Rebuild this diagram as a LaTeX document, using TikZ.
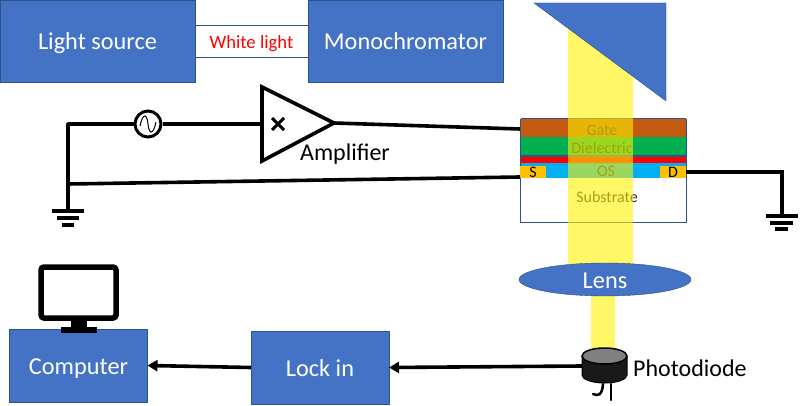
\documentclass[tikz,border=0pt]{standalone}
\usepackage{fontspec}
\setmainfont{Carlito}
\usetikzlibrary{arrows.meta, shapes.geometric}
\definecolor{boxblue}{HTML}{4472C4}
\definecolor{boxedge}{HTML}{2F528F}
\tikzset{
    blockbox/.style={draw=boxedge, fill=boxblue, text=white, font=\fontsize{24.3}{28}\selectfont, text height=18pt, text depth=0pt, inner sep=0pt, outer sep=0pt},
    layerbox/.style={inner sep=0pt, outer sep=0pt, font=\fontsize{16}{18}\selectfont, text=black!85},
    wire/.style={line width=3.6pt, black},
    gndbar/.style={line width=3.2pt, black},
    beam/.style={fill=yellow, fill opacity=0.6, draw=none},
}

\begin{document}
\begin{tikzpicture}[x=1pt, y=-1pt]
    \useasboundingbox (0,0) rectangle (800,406);

    \node[draw=boxedge, fill=white, minimum width=113pt, minimum height=32pt, inner sep=0pt, text=red, font=\fontsize{18.7}{20}\selectfont, text height=15pt, text depth=0pt] (whitelight) at (251.5,41) {White light};
    \node[blockbox, minimum width=195pt, minimum height=82pt] (lightsource) at (97.5,41) {Light source};
    \node[blockbox, minimum width=195pt, minimum height=82pt] (monochromator) at (405.5,41) {Monochromator};

    % transistor stack
    \node[layerbox, draw=boxedge, fill=white, minimum width=166pt, minimum height=103pt] (stack) at (603,170.5) {};
    \node[layerbox, fill=boxedge, minimum width=165pt, minimum height=46pt] at (603,141) {};
    \node[layerbox, fill={rgb,255:red,197;green,90;blue,17}, minimum width=165pt, minimum height=18pt] (gate) at (603,128) {};
    \node[layerbox, fill={rgb,255:red,0;green,176;blue,80}, minimum width=165pt, minimum height=18pt] (dielectric) at (603,146) {};
    \node[layerbox, fill=red, minimum width=165pt, minimum height=6pt] (barrier) at (603,160) {};
    \node[layerbox, fill={rgb,255:red,0;green,176;blue,240}, minimum width=165pt, minimum height=15pt] (channel) at (603,170.5) {};
    \node[layerbox, fill={rgb,255:red,255;green,192;blue,0}, minimum width=26pt, minimum height=12pt, text=black] (source) at (533,172) {S};
    \node[layerbox, fill={rgb,255:red,255;green,192;blue,0}, minimum width=26pt, minimum height=12pt, text=black] (drain) at (673,172) {D};
    \node[layerbox] at (602,130) {Gate};
    \node[layerbox] at (602,148) {Dielectric};
    \node[layerbox] at (606,171) {OS};
    \node[layerbox] at (607,197) {Substrate};

    % light path
    \fill[beam] (568,10) rectangle (633,265);
    \fill[yellow!60] (591,295) rectangle (615,352);
    \fill[boxblue, draw=boxedge] (534,3) -- (666,3) -- (666,101) -- cycle;
    \node[blockbox, ellipse, minimum width=172pt, minimum height=33pt] (lens) at (605,279.5) {Lens};

    % source side wiring
    \coordinate (groundtop) at (68,124);
    \coordinate (junction) at (68,184);
    \coordinate (groundleft) at (68,211);
    \coordinate (ampin) at (262,124);
    \coordinate (ampout) at (334,123);
    \coordinate (gatein) at (520,129);
    \coordinate (sourcein) at (520,177);
    \coordinate (drainout) at (686,172);
    \coordinate (corner) at (782,172);
    \coordinate (groundright) at (782,216);

    \node[circle, draw, line width=3pt, fill=white, minimum size=26pt, inner sep=0pt] (acsource) at (148,124) {};
    \draw[line width=1pt] (140,126) .. controls (143,112) and (147,114) .. (148,124) .. controls (149,134) and (153,136) .. (156,122);
    \draw[wire, line join=round] (acsource) -- (groundtop) -- (groundleft);
    \draw[wire] (acsource) -- (ampin);
    \draw[wire] (junction) -- (sourcein);
    \draw[wire] (ampout) -- (gatein);
    \draw[wire, line join=miter] (drainout) -- (corner) -- (groundright);

    \draw[line width=3.6pt, line join=miter] (262,87) -- (334,123) -- (262,161) -- cycle;
    \draw[line width=3pt] (272,118) -- (284,130) (284,118) -- (272,130);
    \node[inner sep=0pt, font=\fontsize{24}{28}\selectfont] (amplifier) at (345,154) {Amplifier};

    % grounds
    \draw[gndbar] (52,211) -- (84,211) (57,218) -- (79,218) (62,225) -- (74,225);
    \draw[gndbar] (766,216) -- (798,216) (770,223) -- (793,223) (775,229) -- (788,229);

    % detection
    \node[blockbox, minimum width=138pt, minimum height=73pt] (lockin) at (320,367.5) {Lock in};
    \node[blockbox, minimum width=138pt, minimum height=73pt] (computer) at (78.5,365.5) {Computer};
    \coordinate (diodeleft) at (582,366);
    \draw[wire, -{Triangle[length=10pt,width=11pt]}] (diodeleft) -- (lockin.east);
    \draw[wire, -{Triangle[length=10pt,width=11pt]}] (lockin.west) -- (computer.east);

    % photodiode
    \draw[line width=2.5pt, line cap=round] (611,384) -- (611,400);
    \draw[line width=2.5pt, line cap=round] (603,384) .. controls (602,396) and (598,396) .. (593,394);
    \fill[black!90, draw=black, line width=1pt] (582,356) -- (582,375) arc[start angle=180, end angle=360, x radius=22.5pt, y radius=8pt] -- (627,356) -- cycle;
    \draw[fill=black!50, line width=1.5pt] (604.5,356) ellipse[x radius=22.5pt, y radius=8pt];
    \node[anchor=west, inner sep=0pt, font=\fontsize{24}{28}\selectfont] (photodiode) at (633,368) {Photodiode};

    % monitor
    \fill[black] (71,320) rectangle (87,328);
    \fill[black] (61,327) rectangle (97,333);
    \draw[line width=5.5pt, rounded corners=3pt, fill=white] (41,267) rectangle (116,318);
\end{tikzpicture}
\end{document}
